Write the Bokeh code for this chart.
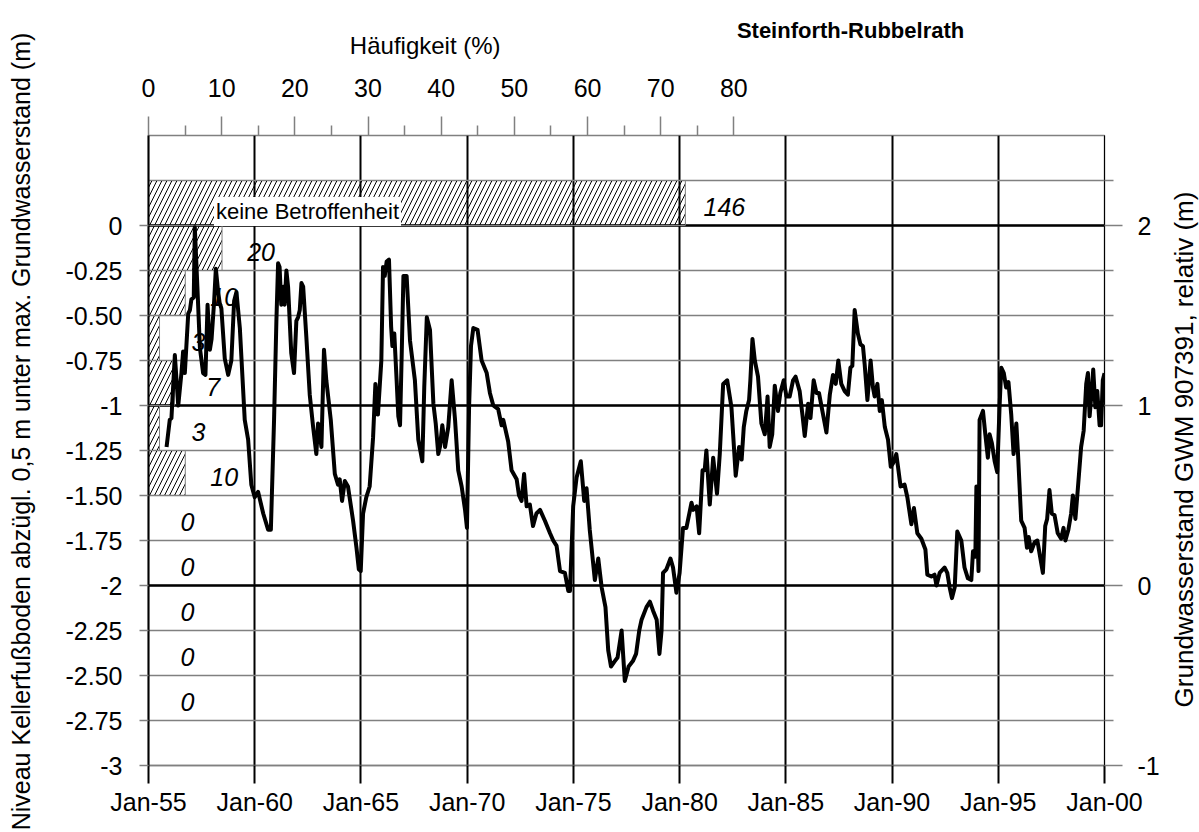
import math
from bokeh.plotting import figure
from bokeh.layouts import row, column
from bokeh.models import Range1d, LinearAxis, FixedTicker, Span, Label, ColumnDataSource
from bokeh.core.properties import value
from bokeh.embed import file_html
from bokeh.resources import INLINE

FONT = "Liberation Sans"

# ---------------- data ----------------
# Histogram of cellar floor level classes (counts)
bin_top = [0.25, 0.0, -0.25, -0.5, -0.75, -1.0, -1.25, -1.5, -1.75, -2.0, -2.25, -2.5]
bin_bottom = [0.0, -0.25, -0.5, -0.75, -1.0, -1.25, -1.5, -1.75, -2.0, -2.25, -2.5, -2.75]
counts = [146, 20, 10, 3, 7, 3, 10, 0, 0, 0, 0, 0]
no_impact_label = "keine Betroffenheit"

# Groundwater level GWM 907391, relative (m)
gw_years = [
    1955.85, 1956.00, 1956.08, 1956.24, 1956.40, 1956.55, 1956.63, 1956.71, 1956.87, 1956.95,
    1957.02, 1957.13, 1957.18, 1957.30, 1957.42, 1957.57, 1957.68, 1957.78, 1957.89, 1957.97,
    1958.09, 1958.17, 1958.28, 1958.35, 1958.43, 1958.59, 1958.75, 1958.90, 1959.03, 1959.14,
    1959.30, 1959.53, 1959.69, 1959.84, 1960.00, 1960.16, 1960.40, 1960.63, 1960.76, 1960.91,
    1961.02, 1961.10, 1961.17, 1961.25, 1961.34, 1961.41, 1961.49, 1961.57, 1961.72, 1961.85,
    1961.96, 1962.04, 1962.12, 1962.20, 1962.28, 1962.43, 1962.59, 1962.75, 1962.90, 1962.98,
    1963.06, 1963.14, 1963.26, 1963.37, 1963.58, 1963.77, 1963.92, 1964.00, 1964.11, 1964.24,
    1964.39, 1964.63, 1964.79, 1964.90, 1964.99, 1965.10, 1965.25, 1965.41, 1965.57, 1965.68,
    1965.80, 1965.96, 1966.04, 1966.12, 1966.21, 1966.32, 1966.42, 1966.48, 1966.57, 1966.68,
    1966.76, 1966.84, 1966.92, 1967.00, 1967.15, 1967.31, 1967.54, 1967.70, 1967.89, 1967.98,
    1968.10, 1968.25, 1968.41, 1968.52, 1968.64, 1968.72, 1968.83, 1968.96, 1969.11, 1969.27,
    1969.43, 1969.58, 1969.74, 1969.90, 1969.99, 1970.09, 1970.18, 1970.29, 1970.49, 1970.68,
    1970.92, 1971.07, 1971.23, 1971.46, 1971.62, 1971.70, 1971.93, 1972.09, 1972.33, 1972.44,
    1972.56, 1972.68, 1972.80, 1972.95, 1973.10, 1973.26, 1973.43, 1973.66, 1973.90, 1974.05,
    1974.21, 1974.37, 1974.60, 1974.76, 1974.84, 1974.99, 1975.15, 1975.35, 1975.51, 1975.62,
    1975.77, 1976.01, 1976.17, 1976.33, 1976.51, 1976.64, 1976.77, 1976.95, 1977.08, 1977.27,
    1977.42, 1977.60, 1977.80, 1977.95, 1978.10, 1978.21, 1978.44, 1978.60, 1978.75, 1978.92,
    1979.05, 1979.15, 1979.22, 1979.38, 1979.57, 1979.69, 1979.85, 1980.00, 1980.16, 1980.32,
    1980.56, 1980.64, 1980.80, 1980.92, 1981.08, 1981.18, 1981.26, 1981.42, 1981.58, 1981.76,
    1981.89, 1982.05, 1982.24, 1982.44, 1982.52, 1982.64, 1982.80, 1982.92, 1983.02, 1983.14,
    1983.27, 1983.33, 1983.43, 1983.54, 1983.69, 1983.85, 1984.01, 1984.14, 1984.24, 1984.36,
    1984.48, 1984.63, 1984.74, 1984.90, 1985.03, 1985.18, 1985.34, 1985.46, 1985.65, 1985.78,
    1985.89, 1986.05, 1986.16, 1986.31, 1986.44, 1986.56, 1986.72, 1986.91, 1987.07, 1987.22,
    1987.35, 1987.47, 1987.61, 1987.77, 1987.92, 1988.04, 1988.13, 1988.24, 1988.39, 1988.51,
    1988.63, 1988.71, 1988.84, 1988.99, 1989.10, 1989.18, 1989.31, 1989.42, 1989.52, 1989.66,
    1989.81, 1989.94, 1990.05, 1990.20, 1990.28, 1990.40, 1990.59, 1990.72, 1990.91, 1991.03,
    1991.19, 1991.38, 1991.57, 1991.66, 1991.85, 1992.00, 1992.09, 1992.24, 1992.47, 1992.60,
    1992.71, 1992.82, 1992.95, 1993.07, 1993.26, 1993.41, 1993.57, 1993.73, 1993.81, 1993.92,
    1993.97, 1994.07, 1994.12, 1994.28, 1994.39, 1994.51, 1994.59, 1994.70, 1994.83, 1994.95,
    1995.06, 1995.14, 1995.26, 1995.37, 1995.48, 1995.61, 1995.72, 1995.85, 1995.93, 1996.08,
    1996.24, 1996.35, 1996.43, 1996.55, 1996.71, 1996.84, 1996.94, 1997.10, 1997.21, 1997.30,
    1997.41, 1997.52, 1997.65, 1997.80, 1997.96, 1998.07, 1998.16, 1998.30, 1998.43, 1998.51,
    1998.63, 1998.74, 1998.90, 1999.02, 1999.14, 1999.22, 1999.30, 1999.41, 1999.47, 1999.57,
    1999.66, 1999.77, 1999.84, 1999.92, 2000.00,
]
gw_level = [
    0.77, 0.92, 0.93, 1.28, 1.00, 1.18, 1.30, 1.18, 1.51, 1.53,
    1.59, 1.60, 1.99, 1.66, 1.32, 1.18, 1.17, 1.56, 1.31, 1.37,
    1.58, 1.76, 1.63, 1.57, 1.54, 1.26, 1.17, 1.25, 1.58, 1.63,
    1.43, 0.92, 0.81, 0.56, 0.49, 0.52, 0.40, 0.31, 0.31, 0.92,
    1.47, 1.79, 1.77, 1.56, 1.66, 1.56, 1.75, 1.66, 1.29, 1.18,
    1.47, 1.49, 1.53, 1.68, 1.66, 1.38, 1.06, 0.88, 0.73, 0.90,
    0.84, 0.77, 1.31, 1.14, 0.92, 0.62, 0.56, 0.59, 0.47, 0.58,
    0.55, 0.36, 0.21, 0.09, 0.08, 0.40, 0.49, 0.55, 0.82, 1.12,
    0.95, 1.25, 1.77, 1.72, 1.80, 1.81, 1.44, 1.33, 1.40, 1.14,
    0.94, 0.89, 1.29, 1.72, 1.72, 1.36, 1.14, 0.81, 0.69, 1.10,
    1.49, 1.42, 1.01, 0.90, 0.73, 0.77, 0.89, 0.77, 0.88, 1.14,
    0.92, 0.64, 0.55, 0.42, 0.32, 0.99, 1.33, 1.43, 1.42, 1.25,
    1.18, 1.07, 1.00, 0.98, 0.89, 0.92, 0.80, 0.64, 0.59, 0.50,
    0.47, 0.62, 0.44, 0.45, 0.33, 0.40, 0.42, 0.36, 0.29, 0.25,
    0.22, 0.08, 0.07, -0.03, -0.03, 0.44, 0.60, 0.69, 0.47, 0.54,
    0.31, 0.03, 0.15, -0.01, -0.12, -0.36, -0.45, -0.42, -0.40, -0.25,
    -0.53, -0.45, -0.42, -0.38, -0.25, -0.19, -0.12, -0.09, -0.14, -0.19,
    -0.38, -0.25, 0.07, 0.09, 0.15, 0.10, -0.04, 0.07, 0.32, 0.32,
    0.46, 0.42, 0.44, 0.29, 0.64, 0.64, 0.75, 0.45, 0.71, 0.51,
    0.73, 1.12, 1.14, 0.99, 0.84, 0.61, 0.77, 0.70, 0.88, 0.97,
    1.03, 1.14, 1.37, 1.25, 1.16, 0.90, 0.84, 1.05, 0.77, 0.84,
    1.11, 0.97, 1.07, 1.14, 1.05, 1.05, 1.14, 1.16, 1.08, 0.95,
    0.83, 1.01, 0.93, 1.14, 1.07, 1.07, 0.97, 0.85, 1.06, 1.17,
    1.12, 1.25, 1.12, 1.08, 1.06, 1.21, 1.22, 1.53, 1.40, 1.34,
    1.33, 1.23, 1.03, 1.25, 1.10, 1.05, 1.12, 0.97, 1.03, 0.88,
    0.81, 0.66, 0.68, 0.73, 0.66, 0.55, 0.56, 0.49, 0.34, 0.43,
    0.29, 0.26, 0.20, 0.06, 0.05, 0.06, 0.00, 0.07, 0.10, 0.07,
    -0.01, -0.07, -0.01, 0.30, 0.25, 0.10, 0.04, 0.03, 0.19, 0.16,
    0.55, 0.08, 0.92, 0.97, 0.84, 0.71, 0.84, 0.79, 0.69, 0.63,
    0.99, 1.21, 1.18, 1.10, 1.13, 0.95, 0.73, 0.90, 0.73, 0.36,
    0.32, 0.21, 0.27, 0.19, 0.24, 0.25, 0.18, 0.07, 0.33, 0.37,
    0.53, 0.40, 0.39, 0.29, 0.26, 0.32, 0.25, 0.31, 0.40, 0.50,
    0.37, 0.53, 0.77, 0.86, 1.12, 1.18, 0.94, 1.10, 1.20, 0.99,
    1.08, 0.89, 0.89, 1.14, 1.18,
]

# axis ticks / labels
year_ticks = [1955, 1960, 1965, 1970, 1975, 1980, 1985, 1990, 1995, 2000]
year_labels = ["Jan-55", "Jan-60", "Jan-65", "Jan-70", "Jan-75", "Jan-80",
               "Jan-85", "Jan-90", "Jan-95", "Jan-00"]
depth_ticks = [0, -0.25, -0.5, -0.75, -1, -1.25, -1.5, -1.75, -2, -2.25, -2.5, -2.75, -3]
depth_labels = ["0", "-0.25", "-0.50", "-0.75", "-1", "-1.25", "-1.50", "-1.75",
                "-2", "-2.25", "-2.50", "-2.75", "-3"]
pct_ticks = [0, 10, 20, 30, 40, 50, 60, 70, 80]
pct_minor = [5, 15, 25, 35, 45, 55, 65, 75]
gw_ticks = [-1, 0, 1, 2]
gw_labels = ["-1", "0", "1", "2"]
gw_minor = [-0.75, -0.5, -0.25, 0.25, 0.5, 0.75, 1.25, 1.5, 1.75, 2.25]
grid_levels = [0.5, 0.25, 0, -0.25, -0.5, -0.75, -1, -1.25, -1.5, -1.75, -2,
               -2.25, -2.5, -2.75, -3]
major_levels = [0, -1, -2]

title_text = "Steinforth-Rubbelrath"
top_axis_title = "Häufigkeit (%)"
left_axis_title = "Niveau Kellerfußboden abzügl. 0,5 m unter max. Grundwasserstand (m)"
right_axis_title = "Grundwasserstand GWM 907391, relativ (m)"

# ---------------- layout constants (pixels) ----------------
TOTAL_H = 830
LEFT_W, RIGHT_W, HEAD_H = 36, 37, 65
MAIN_W = 1126
MAIN_H = TOTAL_H - HEAD_H
FRAME_L, FRAME_R = 148, 1105   # page x of the plot frame edges

# ---------------- derived ----------------
total = sum(counts)
percent = [c / total * 100.0 for c in counts]
mid = [(a + b) / 2 for a, b in zip(bin_top, bin_bottom)]
bars = ColumnDataSource(dict(top=bin_top, bottom=bin_bottom, right=percent,
                             mid=mid, lbl=[str(c) for c in counts]))

GRAY = "#808080"
TICK_FS = "25px"


def text_panel(w, h, x0=0, x1=None):
    f = figure(width=w, height=h, output_backend="svg", toolbar_location=None,
               x_range=Range1d(x0, w if x1 is None else x1), y_range=Range1d(0, h),
               x_axis_location=None, y_axis_location=None,
               min_border=0, outline_line_color=None,
               background_fill_color="white", border_fill_color="white")
    f.grid.visible = False
    return f


p = figure(width=MAIN_W, height=MAIN_H, output_backend="svg", toolbar_location=None,
           x_range=Range1d(1955, 2000), y_range=Range1d(-3, 0.5),
           min_border_left=FRAME_L - LEFT_W,
           min_border_right=LEFT_W + MAIN_W - FRAME_R,
           min_border_top=70, min_border_bottom=65,
           background_fill_color="white", border_fill_color="white")
p.extra_x_ranges = {"pct": Range1d(0, 957 / 7.325)}
p.extra_y_ranges = {"gw": Range1d(-1, 2.5)}
p.outline_line_color = GRAY
p.outline_line_width = 1.5

# grids
p.xgrid.ticker = FixedTicker(ticks=year_ticks)
p.xgrid.grid_line_color = "black"
p.xgrid.grid_line_width = 2
p.ygrid.ticker = FixedTicker(ticks=grid_levels)
p.ygrid.grid_line_color = GRAY
p.ygrid.grid_line_width = 1.5
for lv in major_levels:
    p.add_layout(Span(location=lv, dimension="width", line_color="black",
                      line_width=2.5, level="underlay"))

# bottom axis (dates)
xa = p.xaxis[0]
xa.ticker = FixedTicker(ticks=year_ticks)
xa.major_label_overrides = {t: l for t, l in zip(year_ticks, year_labels)}
xa.major_tick_out = 18
xa.major_tick_in = 0
xa.minor_tick_line_color = None
xa.major_tick_line_color = "black"
xa.major_tick_line_width = 2
xa.axis_line_color = GRAY
xa.axis_line_width = 1.5
xa.major_label_standoff = 4
xa.major_label_text_font = FONT
xa.major_label_text_font_size = TICK_FS
xa.major_label_text_color = "black"

# left axis (cellar level)
ya = p.yaxis[0]
ya.ticker = FixedTicker(ticks=depth_ticks)
ya.major_label_overrides = {t: l for t, l in zip(depth_ticks, depth_labels)}
ya.major_tick_out = 9
ya.major_tick_in = 0
ya.minor_tick_line_color = None
ya.major_tick_line_color = GRAY
ya.major_tick_line_width = 1.5
ya.axis_line_color = "black"
ya.axis_line_width = 2
ya.major_label_standoff = 17
ya.major_label_text_font = FONT
ya.major_label_text_font_size = TICK_FS
ya.major_label_text_color = "black"

# top axis (frequency %)
ta = LinearAxis(x_range_name="pct",
                ticker=FixedTicker(ticks=pct_ticks, minor_ticks=pct_minor))
ta.major_tick_out = 19
ta.major_tick_in = 0
ta.minor_tick_out = 10
ta.minor_tick_in = 0
ta.major_tick_line_color = GRAY
ta.minor_tick_line_color = GRAY
ta.major_tick_line_width = 1.5
ta.minor_tick_line_width = 1.5
ta.axis_line_color = None
ta.major_label_standoff = 20
ta.major_label_text_font = FONT
ta.major_label_text_font_size = TICK_FS
ta.major_label_text_color = "black"
p.add_layout(ta, "above")

# right axis (groundwater level)
ra = LinearAxis(y_range_name="gw",
                ticker=FixedTicker(ticks=gw_ticks, minor_ticks=gw_minor))
ra.major_label_overrides = {t: l for t, l in zip(gw_ticks, gw_labels)}
ra.major_tick_out = 18
ra.major_tick_in = 0
ra.minor_tick_out = 9
ra.minor_tick_in = 0
ra.major_tick_line_color = GRAY
ra.minor_tick_line_color = GRAY
ra.major_tick_line_width = 1.5
ra.minor_tick_line_width = 1.5
ra.axis_line_color = "black"
ra.axis_line_width = 1
ra.major_label_standoff = 15
ra.major_label_text_font = FONT
ra.major_label_text_font_size = TICK_FS
ra.major_label_text_color = "black"
p.add_layout(ra, "right")

# histogram bars (hatched)
p.hbar(left=0, right="right", y="mid", height=0.25, source=bars, x_range_name="pct",
       fill_color=None, line_color=GRAY, line_width=1,
       hatch_pattern="/", hatch_color="black", hatch_scale=10, hatch_weight=1)

# count labels
p.text(x="right", y="mid", text="lbl", source=bars, x_range_name="pct",
       x_offset=39, y_offset=4, text_align="center", text_baseline="middle",
       text_font=value(FONT), text_font_style="italic", text_font_size="25px",
       text_color="black")

# "keine Betroffenheit" label inside top bar
p.add_layout(Label(x=0, y=mid[0], x_range_name="pct", x_offset=159, y_offset=-8.5,
                   text=no_impact_label, text_align="center", text_baseline="middle",
                   text_font=FONT, text_font_size="22px", text_color="black",
                   background_fill_color="white", padding=2))

# groundwater line
p.line(gw_years, gw_level, y_range_name="gw", line_color="black", line_width=4,
       line_join="round")

# ---- header with chart title and frequency-axis title ----
# (its frame is aligned with the main plot frame, so x is in page pixels)
head = text_panel(MAIN_W, HEAD_H, FRAME_L, FRAME_R)
head.text(x=[737], y=[HEAD_H - 30], text=[title_text], text_align="left",
          text_baseline="middle", text_font=value(FONT), text_font_size="22px",
          text_font_style="bold", text_color="black")
head.text(x=[425], y=[HEAD_H - 45], text=[top_axis_title], text_align="center",
          text_baseline="middle", text_font=value(FONT), text_font_size="24px",
          text_color="black")

# ---- left / right strips with rotated axis titles ----
left = text_panel(LEFT_W, TOTAL_H)
left.text(x=[20], y=[TOTAL_H - 431], text=[left_axis_title], angle=math.pi / 2,
          text_align="center", text_baseline="middle", text_font=value(FONT),
          text_font_size="25px", text_color="black")

right = text_panel(RIGHT_W, TOTAL_H)
right.text(x=[21], y=[TOTAL_H - 449], text=[right_axis_title], angle=math.pi / 2,
           text_align="center", text_baseline="middle", text_font=value(FONT),
           text_font_size="26px", text_color="black")

layout = row(left, column(head, p, spacing=0), right, spacing=0)

open("out.html", "w").write(file_html(layout, INLINE))
